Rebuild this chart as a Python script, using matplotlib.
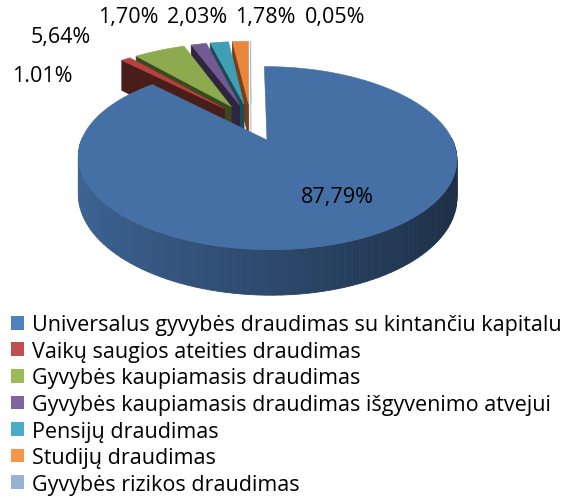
import numpy as np
import matplotlib.pyplot as plt
from matplotlib.patches import Polygon, Patch
from matplotlib.colors import to_rgb

categories = [
    "Universalus gyvybės draudimas su kintančiu kapitalu",
    "Vaikų saugios ateities draudimas",
    "Gyvybės kaupiamasis draudimas",
    "Gyvybės kaupiamasis draudimas išgyvenimo atvejui",
    "Pensijų draudimas",
    "Studijų draudimas",
    "Gyvybės rizikos draudimas",
]
shares = [87.79, 1.01, 5.64, 1.70, 2.03, 1.78, 0.05]
value_labels = ["87,79%", "1.01%", "5,64%", "1,70%", "2,03%", "1,78%", "0,05%"]

legend_colors = ["#4F81BD", "#C0504D", "#9BBB59", "#8064A2", "#4BACC6", "#F79646", "#95B3D7"]
top_colors = ["#4570A6", "#B8403D", "#8DAA4F", "#735A92", "#3FA0B5", "#E8863C", "#A9BEDD"]
face_colors = ["#24395A", "#4A1C1A", "#3A4A1E", "#2E2540", "#1E4A55", "#7A4015", "#C3D2E8"]

# label anchor points (pixels), Excel "best fit" placement
label_pos = [(337, 198), (42, 77), (61, 38), (128, 17), (197, 17), (265, 17), (335, 17)]

# pie geometry in pixels
CX, CY = 251, 123
RX, RY = 178, 81
PERSP = 0.19
DEPTH = 35
EXPLODE = 0.23

plt.rcParams["font.family"] = ["Open Sans", "DejaVu Sans"]

fig = plt.figure(figsize=(5.66, 5.02), dpi=100)
ax = fig.add_axes([0, 0, 1, 1])
ax.set_xlim(0, 566)
ax.set_ylim(502, 0)
ax.axis("off")


def project(ang, r, zz, off):
    u = r * np.cos(ang) + off[0]
    v = r * np.sin(ang) + off[1]
    w = 1 + PERSP * v
    return CX + RX * u / w, CY - RY * v / w + DEPTH * zz / w


def shade(color, f):
    return tuple(min(1, c * f) for c in to_rgb(color))


fracs = np.array(shares) / sum(shares)
lo = np.radians(90 - 360 * np.cumsum(fracs))
hi = lo + np.radians(360 * fracs)

sides = []
tops = []
for i in range(len(shares)):
    mid = (lo[i] + hi[i]) / 2
    off = (EXPLODE * np.cos(mid), EXPLODE * np.sin(mid))
    n = max(3, int(np.degrees(hi[i] - lo[i]) / 2))
    t = np.linspace(lo[i], hi[i], n)

    # outer wall, split in strips so it can be shaded by angle
    for a, b in zip(t[:-1], t[1:]):
        m = (a + b) / 2
        if np.sin(m) > 0.02:
            continue
        pts = [project(a, 1, 0, off), project(b, 1, 0, off),
               project(b, 1, 1, off), project(a, 1, 1, off)]
        f = 0.65 - 0.25 * np.cos(m)
        sides.append((np.sin(m) + off[1], pts, shade(top_colors[i], f)))

    # radial cut faces
    for ang, vis in ((hi[i], np.cos(hi[i]) < -0.001), (lo[i], np.cos(lo[i]) > 0.01)):
        if not vis:
            continue
        pts = [project(0, 0, 0, off), project(ang, 1, 0, off),
               project(ang, 1, 1, off), project(0, 0, 1, off)]
        sides.append((0.5 * np.sin(ang) + off[1], pts, face_colors[i]))

    top = [project(0, 0, 0, off)] + [project(a, 1, 0, off) for a in t]
    tops.append((top, top_colors[i]))

for _, pts, col in sorted(sides, key=lambda s: -s[0]):
    ax.add_patch(Polygon(pts, closed=True, facecolor=col, edgecolor=col, linewidth=0.6))
for pts, col in tops:
    ax.add_patch(Polygon(pts, closed=True, facecolor=col, edgecolor=col, linewidth=0.4))

for (x, y), s in zip(label_pos, value_labels):
    ax.text(x, y, s, fontsize=15.5, ha="center", va="center", color="black")

handles = [Patch(facecolor=c, edgecolor="none") for c in legend_colors]
ax.legend(handles, categories, loc="upper left", bbox_to_anchor=(0.02, 0.372),
          bbox_transform=fig.transFigure, frameon=False, fontsize=15.5,
          handlelength=0.6, handleheight=0.6, handletextpad=0.35,
          labelspacing=0.26, borderaxespad=0, borderpad=0)

plt.savefig("out.png", dpi=100)
